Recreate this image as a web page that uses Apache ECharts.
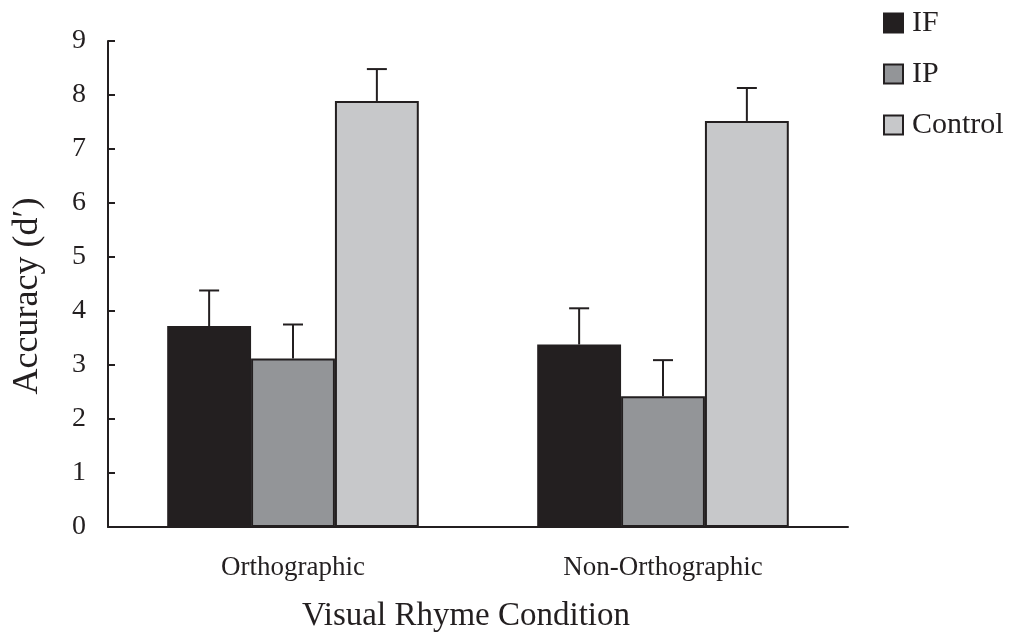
<!DOCTYPE html>
<html lang="en">
  <head>
    <meta charset="UTF-8" />
    <title>Visual Rhyme Condition</title>
    <script src="https://cdn.jsdelivr.net/npm/echarts@6/dist/echarts.min.js"></script>
    <style>
      html,
      body,
      #chart {
        width: 100%;
        height: 100%;
        margin: 0;
        padding: 0;
        overflow: hidden;
        background: #fff;
      }
    </style>
  </head>
  <body>
    <div id="chart"></div>
    <script>
      const categories = ["Orthographic", "Non-Orthographic"];
      const seriesNames = ["IF", "IP", "Control"];
      const ifMeans = [3.72, 3.38];
      const ipMeans = [3.12, 2.42];
      const controlMeans = [7.89, 7.52];
      const ifErr = [0.66, 0.67];
      const ipErr = [0.63, 0.67];
      const controlErr = [0.59, 0.61];
      const yTicks = [0, 9, 1]; // min, max, interval

      const colors = ["#231f20", "#939598", "#c7c8ca"];
      const ink = "#231f20";
      const font = "Liberation Serif";

      const means = [ifMeans, ipMeans, controlMeans];
      const errs = [ifErr, ipErr, controlErr];
      const catGap = 0.32;

      // error bar items: [category index, series index, mean, top]
      const errData = [];
      means.forEach((arr, s) => {
        arr.forEach((v, c) => {
          errData.push([c, s, v, v + errs[s][c]]);
        });
      });

      const chart = echarts.init(document.getElementById("chart"));

      const barSeries = seriesNames.map((name, i) => ({
        name: name,
        type: "bar",
        data: means[i],
        barGap: "0%",
        barCategoryGap: catGap * 100 + "%",
        itemStyle: {
          color: colors[i],
          borderColor: ink,
          borderWidth: 2,
        },
        z: 2,
      }));

      const option = {
        animation: false,
        textStyle: { fontFamily: font, color: ink },
        legend: {
          orient: "vertical",
          left: 883,
          top: 8,
          padding: 0,
          itemWidth: 19,
          itemHeight: 19,
          itemGap: 21,
          icon: "rect",
          textStyle: { fontFamily: font, fontSize: 30, color: ink, padding: [0, 0, 0, 4] },
          itemStyle: { borderColor: ink, borderWidth: 2 },
          data: seriesNames,
        },
        grid: { left: 108, right: 163, top: 41, bottom: 101 },
        xAxis: {
          type: "category",
          data: categories,
          name: "Visual Rhyme Condition",
          nameLocation: "middle",
          nameGap: 73,
          nameTextStyle: { fontFamily: font, fontSize: 33, color: ink, padding: [0, 24, 0, 0] },
          axisLine: { lineStyle: { color: ink, width: 2 } },
          axisTick: { show: false },
          axisLabel: { fontFamily: font, fontSize: 27, color: ink, margin: 27 },
        },
        yAxis: {
          type: "value",
          min: yTicks[0],
          max: yTicks[1],
          interval: yTicks[2],
          name: "Accuracy (d′)",
          nameLocation: "middle",
          nameGap: 62,
          nameTextStyle: { fontFamily: font, fontSize: 36, color: ink, padding: [0, 24, 0, 0] },
          axisLine: { show: true, lineStyle: { color: ink, width: 2 } },
          axisTick: { show: true, inside: true, length: 7, lineStyle: { color: ink, width: 2 } },
          axisLabel: { fontFamily: font, fontSize: 28, color: ink, margin: 22 },
          splitLine: { show: false },
        },
        series: barSeries.concat([
          {
            name: "errors",
            type: "custom",
            data: errData,
            z: 5,
            renderItem: function (params, api) {
              const c = api.value(0);
              const s = api.value(1);
              const band = api.size([1, 0])[0];
              const barW = (band * (1 - catGap)) / 3;
              const base = api.coord([c, api.value(2)]);
              const top = api.coord([c, api.value(3)]);
              const x = base[0] + (s - 1) * barW;
              const cap = 10;
              const style = { stroke: ink, lineWidth: 2 };
              return {
                type: "group",
                children: [
                  { type: "line", shape: { x1: x, y1: base[1], x2: x, y2: top[1] }, style: style },
                  { type: "line", shape: { x1: x - cap, y1: top[1], x2: x + cap, y2: top[1] }, style: style },
                ],
              };
            },
          },
        ]),
      };

      chart.setOption(option);
    </script>
  </body>
</html>
